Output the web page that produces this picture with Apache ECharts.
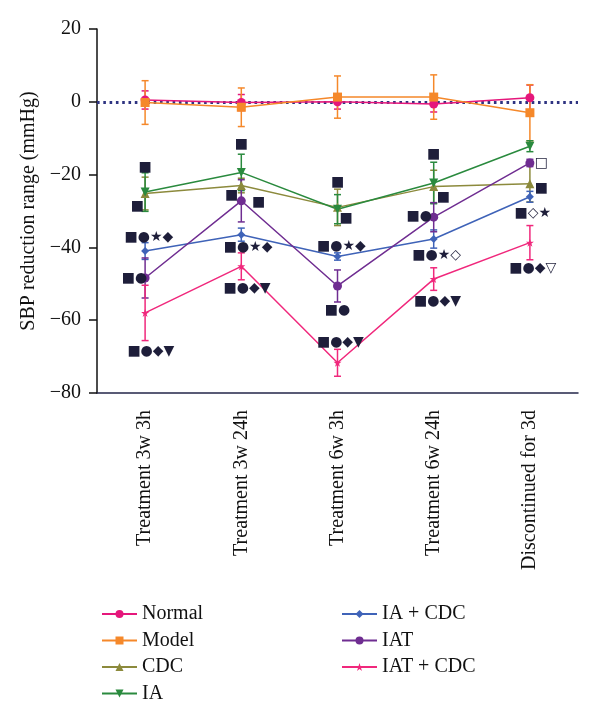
<!DOCTYPE html>
<html>
<head>
<meta charset="utf-8">
<script src="https://cdn.jsdelivr.net/npm/echarts@6/dist/echarts.min.js"></script>
<style>
  html, body { margin: 0; padding: 0; background: #fff; }
  #chart { width: 600px; height: 718px; }
</style>
</head>
<body>
<div id="chart"></div>
<script>
// 时间点
const categories = ['Treatment 3w 3h', 'Treatment 3w 24h', 'Treatment 6w 3h', 'Treatment 6w 24h', 'Discontinued for 3d'];

// 各组均值与误差
const groupNames = ['Normal', 'Model', 'CDC', 'IA', 'IA + CDC', 'IAT', 'IAT + CDC'];
const normalMean = [0.5, -0.2, 0, -0.6, 1.1];
const normalErr = [2.5, 2.2, 2, 2.2, 3.5];
const modelMean = [-0.2, -1.5, 1.3, 1.3, -3];
const modelErr = [6, 5.3, 5.8, 6.1, 7.7];
const cdcMean = [-25.2, -23, -29, -23.3, -22.5];
const cdcErr = [4.5, 2, 5, 4.5, 5];
const iaMean = [-24.8, -19.4, -29.5, -22.3, -12.2];
const iaErr = [5.3, 5, 4, 5.7, 1.5];
const iaCdcMean = [-41, -36.5, -42.5, -37.7, -26.1];
const iaCdcErr = [2.3, 1.8, 1, 2.5, 1.5];
const iatMean = [-48.4, -27.2, -50.6, -31.7, -16.8];
const iatErr = [5.5, 5.8, 4.4, 4, 1];
const iatCdcMean = [-58, -45.2, -71.7, -48.7, -38.7];
const iatCdcErr = [7.6, 3.7, 3.7, 3.1, 4.7];

// 显著性标记: [文字, 类别位置, 数值]
const markTexts = ['■', '■', '■●★◆', '■●', '■●◆▼',
  '■', '■', '■', '■●★◆', '■●◆▼',
  '■', '■', '■●★◆', '■●', '■●◆▼',
  '■', '■', '■●', '■●★◇', '■●◆▼',
  '□', '■', '■◇★', '■●◆▽'];
const markX = [0, -0.08, 0.04, -0.11, 0.06,
  1, 0.9, 1.18, 1.07, 1.06,
  2, 2.09, 2.04, 2, 2.03,
  3, 3.1, 2.85, 3.03, 3.04,
  4.12, 4.12, 4.03, 4.03];
const markY = [-17.9, -28.6, -37.2, -48.4, -68.5,
  -11.6, -25.8, -27.5, -40, -51.3,
  -22.2, -32.1, -39.7, -57.3, -66.2,
  -14.4, -26.3, -31.4, -42.2, -54.7,
  -17, -23.9, -30.7, -45.7];

const means = [normalMean, modelMean, cdcMean, iaMean, iaCdcMean, iatMean, iatCdcMean];
const errs = [normalErr, modelErr, cdcErr, iaErr, iaCdcErr, iatErr, iatCdcErr];
const colors = ['#e5177b', '#f5882a', '#8c8a3c', '#2a8a3e', '#3f63b8', '#6f2d91', '#f0287c'];
const starPath = 'path://M12,0 L14.9,8.6 L24,8.6 L16.6,14 L19.4,22.6 L12,17.3 L4.6,22.6 L7.4,14 L0,8.6 L9.1,8.6 Z';
const symbols = ['circle', 'rect', 'triangle', 'triangle', 'diamond', 'circle', starPath];
const symbolRotate = [0, 0, 0, 180, 0, 0, 0];
const symbolSizes = [9, 9, 9, 9, 8, 9, 8];

const serif = 'Liberation Serif';
const chart = echarts.init(document.getElementById('chart'));

const series = [];

// 误差线
groupNames.forEach((name, i) => {
  series.push({
    name: name + ' err',
    type: 'custom',
    data: means[i].map((m, j) => [j, m - errs[i][j], m + errs[i][j]]),
    renderItem: (params, api) => {
      const lo = api.coord([api.value(0), api.value(1)]);
      const hi = api.coord([api.value(0), api.value(2)]);
      const w = 3.5;
      const style = { stroke: colors[i], lineWidth: 1.5 };
      return {
        type: 'group',
        children: [
          { type: 'line', shape: { x1: lo[0], y1: lo[1], x2: hi[0], y2: hi[1] }, style },
          { type: 'line', shape: { x1: lo[0] - w, y1: lo[1], x2: lo[0] + w, y2: lo[1] }, style },
          { type: 'line', shape: { x1: hi[0] - w, y1: hi[1], x2: hi[0] + w, y2: hi[1] }, style }
        ]
      };
    },
    silent: true,
    z: 2
  });
});

// 折线
groupNames.forEach((name, i) => {
  series.push({
    name: name,
    type: 'line',
    data: means[i],
    symbol: symbols[i],
    symbolSize: symbolSizes[i],
    symbolRotate: symbolRotate[i],
    itemStyle: { color: colors[i] },
    lineStyle: { color: colors[i], width: 1.5 },
    emphasis: { disabled: true },
    animation: false,
    z: 3
  });
});

// 0 参考线
series[7].markLine = {
  silent: true,
  symbol: 'none',
  label: { show: false },
  lineStyle: { color: '#2e3381', width: 3, type: [2.6, 3.7] },
  data: [{ yAxis: 0 }],
  z: 1
};

// 显著性标记
series.push({
  name: 'marks',
  type: 'scatter',
  xAxisIndex: 1,
  symbolSize: 1,
  itemStyle: { color: 'rgba(0,0,0,0)', opacity: 1 },
  data: markTexts.map((t, k) => ({ value: [markX[k], markY[k]], text: t })),
  label: {
    show: true,
    position: 'inside',
    formatter: p => p.data.text,
    fontFamily: 'DejaVu Sans',
    fontSize: 14,
    color: '#1e1e3a',
    opacity: 1
  },
  silent: true,
  z: 5
});

const option = {
  backgroundColor: '#fff',
  animation: false,
  grid: { left: 97, right: 22, top: 29, bottom: 325, outerBoundsMode: 'none' },
  legend: [
    {
      data: groupNames.slice(0, 4),
      orient: 'vertical',
      left: 96,
      top: 599,
      itemWidth: 35,
      itemHeight: 10,
      itemGap: 6.5,
      textStyle: { fontFamily: serif, fontSize: 20, color: '#111', lineHeight: 20 }
    },
    {
      data: groupNames.slice(4),
      orient: 'vertical',
      left: 336,
      top: 599,
      itemWidth: 35,
      itemHeight: 10,
      itemGap: 6.5,
      textStyle: { fontFamily: serif, fontSize: 20, color: '#111', lineHeight: 20 }
    }
  ],
  xAxis: [
    {
      type: 'category',
      data: categories,
      axisLine: { onZero: false, lineStyle: { color: '#23264a', width: 1.5 } },
      axisTick: { alignWithLabel: true, length: 6, lineStyle: { color: '#111', width: 1.5 } },
      axisLabel: { rotate: 90, margin: 17, fontFamily: serif, fontSize: 20, color: '#111' }
    },
    { type: 'value', min: -0.5, max: 4.5, show: false }
  ],
  yAxis: {
    type: 'value',
    min: -80,
    max: 20,
    interval: 20,
    name: 'SBP reduction range (mmHg)',
    nameLocation: 'middle',
    nameGap: 52,
    nameTextStyle: { fontFamily: serif, fontSize: 20, color: '#111' },
    splitLine: { show: false },
    axisLine: { show: true, onZero: false, lineStyle: { color: '#111', width: 1.5 } },
    axisTick: { show: true, length: 8, lineStyle: { color: '#111', width: 1.5 } },
    axisLabel: {
      margin: 16,
      fontFamily: serif,
      fontSize: 20,
      color: '#111',
      formatter: v => (v < 0 ? '\u2212' + Math.abs(v) : String(v))
    }
  },
  series: series
};

chart.setOption(option);
</script>
</body>
</html>
